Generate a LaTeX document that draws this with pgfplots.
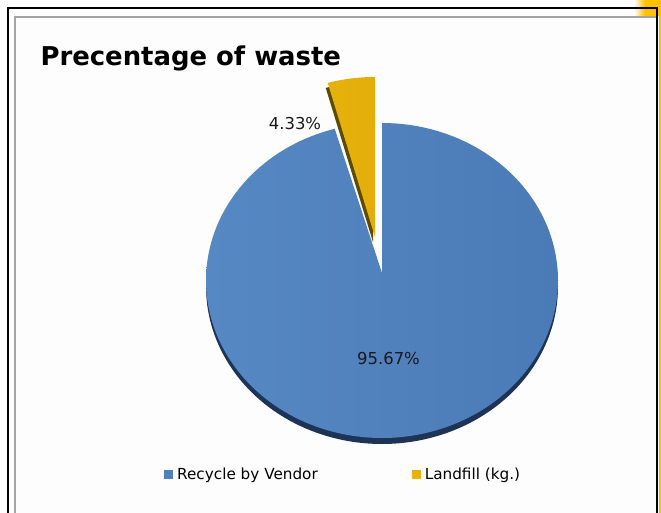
\documentclass[border=0pt]{standalone}
\usepackage{pgfplots}
\pgfplotsset{compat=1.18}
\usepackage{fontspec}
\setmainfont{DejaVu Sans}
\definecolor{pieblueL}{RGB}{86,136,195}
\definecolor{pieblueD}{RGB}{75,123,182}
\definecolor{pieblue}{RGB}{79,129,189}
\definecolor{rimblue}{RGB}{30,52,86}
\definecolor{pieyellow}{RGB}{232,178,14}
\definecolor{pieyellowD}{RGB}{228,174,10}
\definecolor{rimyellow}{RGB}{92,75,4}
\definecolor{frameorange}{RGB}{255,192,0}
\definecolor{framegray}{RGB}{165,165,165}
% data (percent)
\def\valA{95.67}% Recycle by Vendor
\def\valB{4.33}% Landfill (kg.)
\pgfmathsetmacro\endA{90-3.6*\valA}
\pgfmathsetmacro\endB{90+3.6*\valB}
\begin{document}
\begin{tikzpicture}
\begin{axis}[at={(0,0)}, anchor=south west,
  width=661bp, height=513bp, scale only axis,
  xmin=0, xmax=661, ymin=0, ymax=513, y dir=reverse,
  hide axis, clip=false,
  legend columns=2,
  legend cell align=left,
  legend image code/.code={\path[draw=none, fill=none] (0bp,0bp) -- (11bp,0bp);\fill[#1, draw=none] (0bp,-4.5bp) rectangle (9bp,4.5bp);},
  legend style={at={(axis cs:164,474)}, anchor=west, draw=none, fill=none,
    font=\fontsize{15.3}{17}\selectfont, inner sep=0pt,
    /tikz/every even column/.append style={column sep=92bp}},
]
% frame
\fill[white!99.3!black] (axis cs:15,17) rectangle (axis cs:657,520);
\fill[left color=white, right color=frameorange] (axis cs:634,0) rectangle (axis cs:645,16);
\fill[frameorange] (axis cs:645,0) rectangle (axis cs:661,16);
\fill[frameorange] (axis cs:658.5,0) rectangle (axis cs:661,513);
\draw[framegray, line width=1.3bp] (axis cs:15,520) -- (axis cs:15,17) -- (axis cs:657,17);
\draw[black, line width=2bp] (axis cs:8,520) -- (axis cs:8,8) -- (axis cs:657,8) -- (axis cs:657,520);
% blue slice rim and face
\addplot[forget plot, draw=none, fill=rimblue, samples at={1000,90,88,...,-254,\endA}]
  ({x>500 ? 382 : 382+176*cos(x)}, {x>500 ? 279 : 286.5-157.5*sin(x)});
\addplot[forget plot, draw=none, left color=pieblueL, right color=pieblueD, samples at={1000,90,88,...,-254,\endA}]
  ({x>500 ? 382 : 382+176*cos(x)}, {x>500 ? 273 : 280.5-157.5*sin(x)});
% yellow slice (exploded) rim and face
\addplot[forget plot, draw=none, fill=rimyellow, samples at={1000,90,91,...,105,\endB}]
  ({x>500 ? 373 : 373+176*cos(x)}, {x>500 ? 242 : 242-160*sin(x)});
\addplot[forget plot, draw=none, left color=pieyellow, right color=pieyellowD, samples at={1000,90,91,...,105,\endB}]
  ({x>500 ? 375 : 375+176*cos(x)}, {x>500 ? 237 : 237-160*sin(x)});
% legend
\addlegendimage{fill=pieblue}
\addlegendentry{Recycle by Vendor}
\addlegendimage{fill=pieyellow}
\addlegendentry{Landfill (kg.)}
% labels
\node[anchor=base west, font=\bfseries\fontsize{26}{30}\selectfont, text=black] at (axis cs:37,66) {Precentage of waste};
\node[font=\fontsize{16.5}{19}\selectfont, text=black!90] at (axis cs:295,124) {4.33\%};
\node[font=\fontsize{16.5}{19}\selectfont, text=black!90] at (axis cs:388.5,358.5) {95.67\%};
\end{axis}
\pgfresetboundingbox
\useasboundingbox (0,0) rectangle (661bp,513bp);
\end{tikzpicture}
\end{document}
